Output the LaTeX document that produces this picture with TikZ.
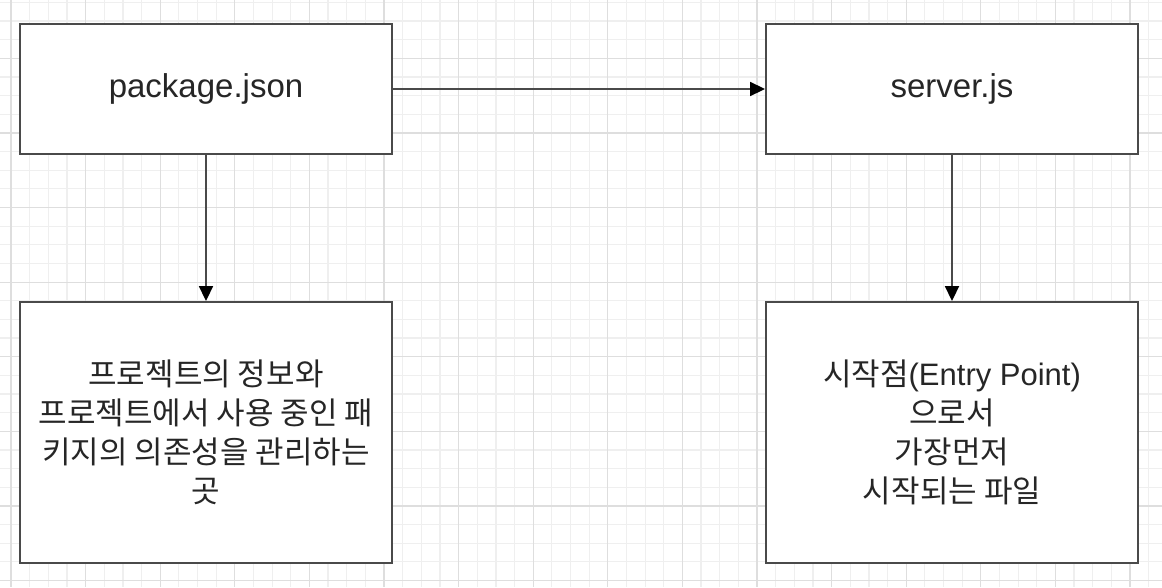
\documentclass[tikz,border=0pt]{standalone}
\usepackage{fontspec}
\setmainfont{Liberation Sans}
\newfontfamily\kr{Noto Sans CJK KR}
\usetikzlibrary{arrows.meta}
\definecolor{gridminor}{HTML}{EFEFEF}
\definecolor{gridmajor}{HTML}{DEDEDE}
\definecolor{boxline}{HTML}{4A4A4A}
\definecolor{txt}{HTML}{262626}
\tikzset{
  box/.style={draw=boxline, line width=1.9pt, fill=white, text=txt, align=center, inner sep=0pt},
  titlebox/.style={box, minimum width=372pt, minimum height=130pt, font=\fontsize{33}{38}\selectfont},
  descbox/.style={box, minimum width=372pt, minimum height=261pt, font=\fontsize{31}{39}\selectfont},
  conn/.style={draw=boxline, line width=1.8pt, -{Triangle[length=15pt,width=14pt,color=black,fill=black]}},
}
\begin{document}
\begin{tikzpicture}[x=1pt,y=-1pt]
\useasboundingbox (0,0) rectangle (1162,587);
\fill[white] (0,0) rectangle (1162,587);
% grid
\foreach \k in {0,...,61}{
  \draw[gridminor, line width=1.2pt] ({11+\k*18.65},0) -- ({11+\k*18.65},587);
}
\foreach \k in {0,...,31}{
  \draw[gridminor, line width=1.2pt] (0,{2.35+\k*18.65}) -- (1162,{2.35+\k*18.65});
}
\foreach \k in {0,4,...,60}{
  \draw[gridmajor, line width=1.2pt] ({11+\k*18.65},0) -- ({11+\k*18.65},587);
}
\foreach \k in {3,7,...,31}{
  \draw[gridmajor, line width=1.2pt] (0,{2.35+\k*18.65}) -- (1162,{2.35+\k*18.65});
}
% nodes
\node[titlebox] (pkg) at (206,89) {package.json};
\node[titlebox] (srv) at (952,89) {server.js};
\node[descbox] (pkgd) at (206,432.5) {{\kr 프로젝트의 정보와}\\{\kr 프로젝트에서 사용 중인 패}\\{\kr 키지의 의존성을 관리하는}\\{\kr 곳}};
\node[descbox] (srvd) at (952,432.5) {{\kr 시작점}(Entry Point)\\{\kr 으로서}\\{\kr 가장먼저}\\{\kr 시작되는 파일}};
% connectors
\draw[conn] (pkg.east) -- (srv.west);
\draw[conn] (pkg.south) -- (pkgd.north);
\draw[conn] (srv.south) -- (srvd.north);
\end{tikzpicture}
\end{document}
